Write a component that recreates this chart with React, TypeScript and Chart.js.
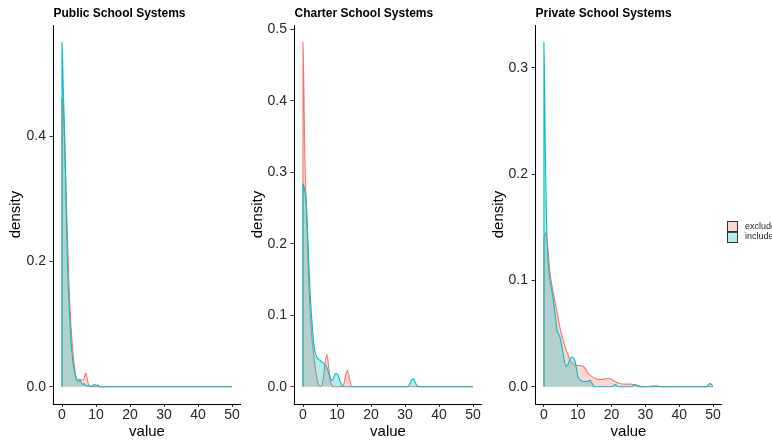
import React, { useEffect, useRef } from 'react';
import { Chart, registerables } from 'chart.js';

Chart.register(...registerables);

// ---------- data ----------
const groups = ['exclude', 'include'];
const panelTitles = ['Public School Systems', 'Charter School Systems', 'Private School Systems'];
const xTicks = [0, 10, 20, 30, 40, 50];
const publicYTicks = [0, 0.2, 0.4];
const charterYTicks = [0, 0.1, 0.2, 0.3, 0.4, 0.5];
const privateYTicks = [0, 0.1, 0.2, 0.3];

const publicExcludeX = [0, 0, 0.4, 0.8, 1.2, 1.6, 2, 2.5, 3, 3.5, 4, 4.5, 5, 5.5, 6, 6.5, 7, 7.5, 8, 9, 10, 15, 20, 30, 40, 50];
const publicExcludeY = [0, 0.46, 0.44, 0.38, 0.31, 0.24, 0.17, 0.11, 0.07, 0.04, 0.02, 0.01, 0.008, 0.012, 0.01, 0.013, 0.022, 0.01, 0.001, 0, 0, 0, 0, 0, 0, 0];
const publicIncludeX = [0, 0, 0.4, 0.8, 1.2, 1.6, 2, 2.5, 3, 3.5, 4, 4.5, 5, 5.5, 6, 6.5, 7, 8, 9, 9.5, 10, 10.5, 11, 12, 20, 30, 40, 50];
const publicIncludeY = [0, 0.55, 0.47, 0.4, 0.3, 0.2, 0.14, 0.085, 0.05, 0.03, 0.016, 0.01, 0.012, 0.008, 0.004, 0.005, 0.002, 0.001, 0.001, 0.004, 0.002, 0.003, 0, 0, 0, 0, 0, 0];

const charterExcludeX = [0, 0, 0.25, 0.5, 1, 1.5, 2, 2.5, 3, 3.5, 4, 4.5, 5, 5.5, 6, 6.5, 7, 7.5, 8, 8.5, 9, 11.5, 12, 12.5, 13, 13.5, 14, 14.5, 20, 30, 40, 50];
const charterExcludeY = [0, 0.482, 0.42, 0.33, 0.25, 0.17, 0.115, 0.075, 0.05, 0.03, 0.014, 0.004, 0, 0.002, 0.012, 0.035, 0.045, 0.03, 0.01, 0.002, 0, 0, 0.004, 0.015, 0.023, 0.016, 0.004, 0, 0, 0, 0, 0];
const charterIncludeX = [0, 0, 0.5, 1, 1.5, 2, 2.5, 3, 3.5, 4, 4.5, 5, 5.5, 6, 6.5, 7, 7.5, 8, 8.5, 9, 9.5, 10, 10.5, 11, 11.5, 12, 20, 30.5, 31, 31.5, 32, 32.5, 33, 33.5, 34, 40, 50];
const charterIncludeY = [0, 0.284, 0.275, 0.255, 0.2, 0.14, 0.1, 0.07, 0.05, 0.042, 0.039, 0.037, 0.035, 0.033, 0.031, 0.027, 0.02, 0.012, 0.009, 0.012, 0.018, 0.018, 0.014, 0.006, 0.002, 0, 0, 0, 0.001, 0.005, 0.01, 0.011, 0.006, 0.002, 0, 0, 0];

const privateExcludeX = [0, 0, 0.5, 1, 1.8, 2.5, 3.2, 4, 4.7, 5.5, 6.2, 7, 7.7, 8.5, 9.6, 10.5, 11.6, 12.5, 13.1, 14, 15, 16, 17.5, 19, 20, 21, 22.4, 24, 25.4, 27.4, 29.3, 31, 33.3, 35, 40, 50];
const privateExcludeY = [0, 0.14, 0.145, 0.135, 0.107, 0.093, 0.081, 0.068, 0.056, 0.046, 0.038, 0.031, 0.025, 0.022, 0.02, 0.02, 0.019, 0.016, 0.0125, 0.01, 0.008, 0.007, 0.007, 0.008, 0.007, 0.005, 0.003, 0.0025, 0.0025, 0.0015, 0, 0.0003, 0.001, 0, 0, 0];
const privateIncludeX = [0, 0, 0.4, 0.8, 1.5, 2.2, 2.8, 3.4, 3.9, 4.7, 5.7, 6.5, 7.2, 8.2, 9.2, 10.1, 11, 11.6, 12.5, 13.6, 14.3, 15, 20, 21, 22, 26, 27, 28, 48, 49, 50];
const privateIncludeY = [0, 0.324, 0.22, 0.15, 0.107, 0.093, 0.081, 0.065, 0.053, 0.047, 0.031, 0.019, 0.022, 0.028, 0.024, 0.009, 0.006, 0.005, 0.005, 0.006, 0.003, 0, 0, 0.002, 0, 0, 0.002, 0, 0, 0.003, 0.001];

// ---------- styles ----------
const FONT = "'Liberation Sans', Arial, Helvetica, sans-serif";
const LINE: Record<string, string> = { exclude: '#F8766D', include: '#00BFC4' };
const FILL: Record<string, string> = { exclude: 'rgba(248,118,109,0.3)', include: 'rgba(0,191,196,0.3)' };

type Series = { group: string; x: number[]; y: number[] };
type PanelCfg = {
  title: string;
  series: Series[];
  yTicks: number[];
  left: number;
  width: number;
  axisW: number;
  padRight: number;
  yTitlePad: number;
};

const panels: PanelCfg[] = [
  {
    title: panelTitles[0],
    series: [
      { group: groups[0], x: publicExcludeX, y: publicExcludeY },
      { group: groups[1], x: publicIncludeX, y: publicIncludeY },
    ],
    yTicks: publicYTicks,
    left: 0, width: 250, axisW: 53.5, padRight: 9.5, yTitlePad: 8.5,
  },
  {
    title: panelTitles[1],
    series: [
      { group: groups[0], x: charterExcludeX, y: charterExcludeY },
      { group: groups[1], x: charterIncludeX, y: charterIncludeY },
    ],
    yTicks: charterYTicks,
    left: 250, width: 240, axisW: 44.5, padRight: 8.5, yTitlePad: 0.5,
  },
  {
    title: panelTitles[2],
    series: [
      { group: groups[0], x: privateExcludeX, y: privateExcludeY },
      { group: groups[1], x: privateIncludeX, y: privateIncludeY },
    ],
    yTicks: privateYTicks,
    left: 490, width: 240, axisW: 45.5, padRight: 8.5, yTitlePad: 1.5,
  },
];

function DensityPanel({ cfg }: { cfg: PanelCfg }) {
  const ref = useRef<HTMLCanvasElement>(null);
  useEffect(() => {
    const dataMax = Math.max(...cfg.series.flatMap((s) => s.y));
    const chart = new Chart(ref.current as HTMLCanvasElement, {
      type: 'line',
      data: {
        datasets: cfg.series.map((s) => ({
          label: s.group,
          data: s.x.map((x, k) => ({ x, y: s.y[k] })),
          borderColor: LINE[s.group],
          backgroundColor: FILL[s.group],
          borderWidth: 1.1,
          fill: 'origin',
          pointRadius: 0,
          cubicInterpolationMode: 'monotone',
          order: s.group === 'include' ? 0 : 1,
        })),
      },
      options: {
        responsive: false,
        animation: false,
        events: [],
        layout: { padding: { left: 0, right: cfg.padRight, top: 0, bottom: 0 } },
        plugins: {
          legend: { display: false },
          tooltip: { enabled: false },
          title: {
            display: true,
            text: cfg.title,
            align: 'start',
            fullSize: false,
            color: '#000',
            font: { family: FONT, size: 12, weight: 'bold', lineHeight: 1.2 },
            padding: { top: 6.8, bottom: 3.8 },
          },
        },
        scales: {
          x: {
            type: 'linear',
            min: -2.5,
            max: 52.5,
            afterBuildTicks: (s: any) => {
              s.ticks = xTicks.map((v) => ({ value: v }));
            },
            afterFit: (s: any) => {
              s.height = 39;
            },
            border: { display: true, color: '#000', width: 1 },
            grid: { drawOnChartArea: false, drawTicks: true, tickLength: 3, color: '#333' },
            ticks: {
              padding: 1,
              color: '#262626',
              autoSkip: false,
              maxRotation: 0,
              font: { family: FONT, size: 14, lineHeight: 1 },
            },
            title: {
              display: true,
              text: 'value',
              color: '#000',
              font: { family: FONT, size: 15, lineHeight: 1 },
              padding: { top: 0, bottom: 3.5 },
            },
          },
          y: {
            type: 'linear',
            min: -0.05 * dataMax,
            max: 1.05 * dataMax,
            afterBuildTicks: (s: any) => {
              s.ticks = cfg.yTicks.map((v) => ({ value: v }));
            },
            afterFit: (s: any) => {
              s.width = cfg.axisW;
            },
            border: { display: true, color: '#000', width: 1 },
            grid: { drawOnChartArea: false, drawTicks: true, tickLength: 4, color: '#333' },
            ticks: {
              padding: 3.5,
              color: '#262626',
              font: { family: FONT, size: 14, lineHeight: 1 },
              callback: (v: any) => Number(v).toFixed(1),
            },
            title: {
              display: true,
              text: 'density',
              color: '#000',
              font: { family: FONT, size: 15, lineHeight: 1 },
              padding: { top: cfg.yTitlePad, bottom: 0 },
            },
          },
        },
      },
    } as any);
    return () => chart.destroy();
  }, [cfg]);
  return (
    <canvas
      ref={ref}
      width={cfg.width}
      height={443}
      style={{ position: 'absolute', left: cfg.left, top: 0, width: cfg.width, height: 443 }}
    />
  );
}

function Legend() {
  return (
    <div style={{ position: 'absolute', left: 727, top: 221, fontFamily: FONT, fontSize: 9, color: '#222' }}>
      {groups.map((g, i) => (
        <div key={g} style={{ display: 'flex', alignItems: 'center', height: 11, marginTop: i === 0 ? 0 : -1 }}>
          <div
            style={{
              width: 9,
              height: 10,
              border: '1px solid #333',
              background: FILL[g],
              boxSizing: 'content-box',
            }}
          />
          <span style={{ marginLeft: 7, whiteSpace: 'nowrap', lineHeight: '11px' }}>{g}</span>
        </div>
      ))}
    </div>
  );
}

export default function App() {
  return (
    <div
      style={{
        position: 'absolute',
        left: 0,
        top: 0,
        width: 772,
        height: 443,
        overflow: 'hidden',
        background: '#fff',
      }}
    >
      {panels.map((p) => (
        <DensityPanel key={p.title} cfg={p} />
      ))}
      <Legend />
    </div>
  );
}
